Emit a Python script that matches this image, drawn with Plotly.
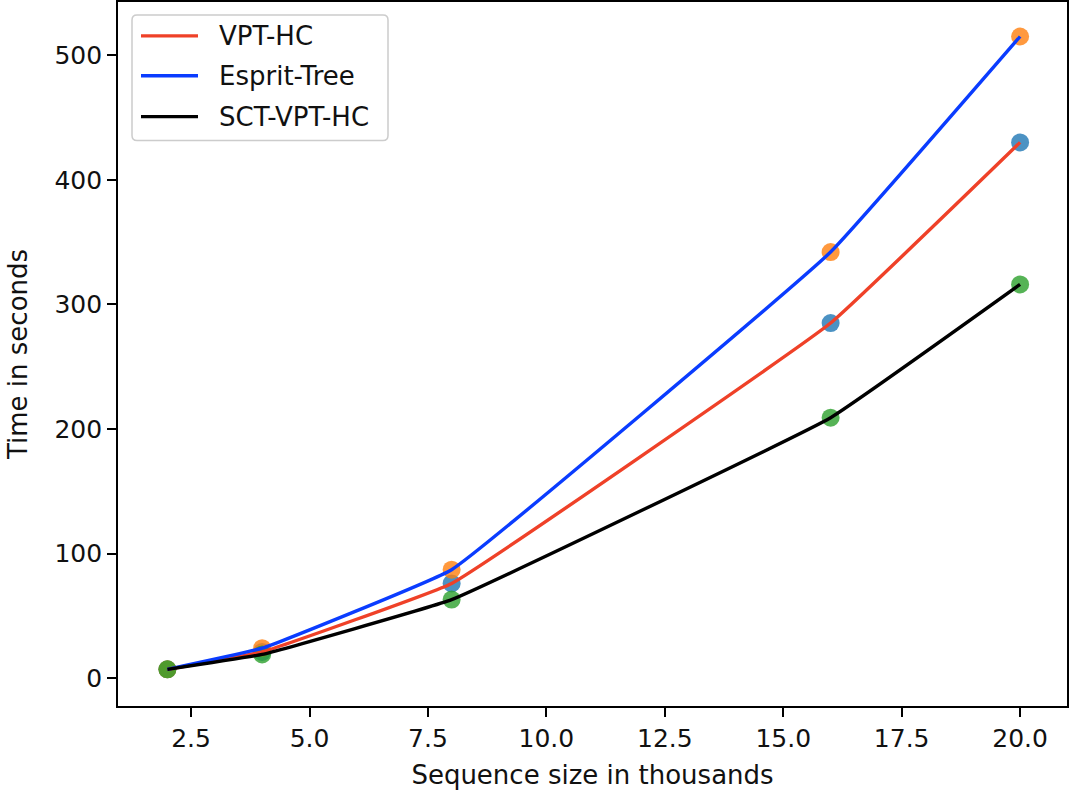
import plotly.graph_objects as go

# Sequence sizes (thousands) and runtimes (seconds)
sizes = [2, 4, 8, 16, 20]
vpt_hc = [7, 21, 76, 285, 430]
esprit_tree = [7, 24, 87, 342, 515]
sct_vpt_hc = [7, 19, 63, 209, 316]

series_names = ["VPT-HC", "Esprit-Tree", "SCT-VPT-HC"]
line_colors = ["#ef4128", "#0a3cff", "#000000"]
marker_colors = ["#1f77b4", "#ff7f0e", "#2ca02c"]

x_ticks = [2.5, 5.0, 7.5, 10.0, 12.5, 15.0, 17.5, 20.0]
y_ticks = [0, 100, 200, 300, 400, 500]

FONT = "DejaVu Sans"
TXT = "#111111"
values = [vpt_hc, esprit_tree, sct_vpt_hc]

# plot-area geometry in pixels (used to place the legend box)
W, H = 1070, 793
ML, MR, MT, MB = 118, 3, 0, 87
PW, PH = W - ML - MR, H - MT - MB


def px_x(p):
    return (p - ML) / PW


def px_y(p):
    return 1 - (p - MT) / PH


fig = go.Figure()

# scattered measurement points
for vals, mc in zip(values, marker_colors):
    fig.add_trace(go.Scatter(
        x=sizes, y=vals, mode="markers",
        marker=dict(color=mc, size=18, opacity=0.8, line=dict(width=0)),
        showlegend=False, hoverinfo="skip",
    ))

# smoothed curves through the points
for name, vals, lc in zip(series_names, values, line_colors):
    fig.add_trace(go.Scatter(
        x=sizes, y=vals, mode="lines", name=name,
        line=dict(color=lc, width=3.4, shape="spline", smoothing=0.25),
        showlegend=False,
    ))

# legend box (rounded corners) with line samples and labels
bx0, bx1, by0, by1, r = 132, 388, 13, 139, 5
rx, ry = r / PW, r / PH
X0, X1, Y0, Y1 = px_x(bx0), px_x(bx1), px_y(by0), px_y(by1)
box_path = (
    f"M{X0 + rx},{Y0} L{X1 - rx},{Y0} Q{X1},{Y0} {X1},{Y0 - ry} "
    f"L{X1},{Y1 + ry} Q{X1},{Y1} {X1 - rx},{Y1} "
    f"L{X0 + rx},{Y1} Q{X0},{Y1} {X0},{Y1 + ry} "
    f"L{X0},{Y0 - ry} Q{X0},{Y0} {X0 + rx},{Y0} Z"
)
shapes = [dict(type="path", path=box_path, xref="paper", yref="paper",
               line=dict(color="#cccccc", width=1.5),
               fillcolor="rgba(255,255,255,0.8)", layer="above")]
annotations = []
row_y = [34, 74, 115]
for name, lc, ry_px in zip(series_names, line_colors, row_y):
    shapes.append(dict(type="line", xref="paper", yref="paper",
                       x0=px_x(141), x1=px_x(198), y0=px_y(ry_px), y1=px_y(ry_px),
                       line=dict(color=lc, width=3.4), layer="above"))
    annotations.append(dict(text=name, xref="paper", yref="paper",
                            x=px_x(217), y=px_y(ry_px), xanchor="left", yanchor="middle",
                            showarrow=False,
                            font=dict(family=FONT, size=26, color=TXT)))

axis_common = dict(
    showgrid=False, zeroline=False,
    showline=True, linecolor="black", linewidth=1.8, mirror=True,
    ticks="outside", ticklen=9, tickwidth=1.8, tickcolor="black",
    tickfont=dict(family=FONT, size=25, color=TXT),
)

fig.update_layout(
    width=W, height=H,
    margin=dict(l=ML, r=MR, t=MT, b=MB),
    paper_bgcolor="white", plot_bgcolor="white",
    font=dict(family=FONT, size=25, color=TXT),
    showlegend=False,
    shapes=shapes,
    annotations=annotations,
    xaxis=dict(
        range=[0.957, 20.99], tickvals=x_ticks,
        ticktext=[f"{v:.1f}" for v in x_ticks],
        title=dict(text="Sequence size in thousands",
                   font=dict(family=FONT, size=26, color=TXT), standoff=14),
        **axis_common,
    ),
    yaxis=dict(
        range=[-22.4, 542.7], tickvals=y_ticks,
        title=dict(text="Time in seconds",
                   font=dict(family=FONT, size=26, color=TXT), standoff=19),
        **axis_common,
    ),
)

fig.write_html("out.html")
